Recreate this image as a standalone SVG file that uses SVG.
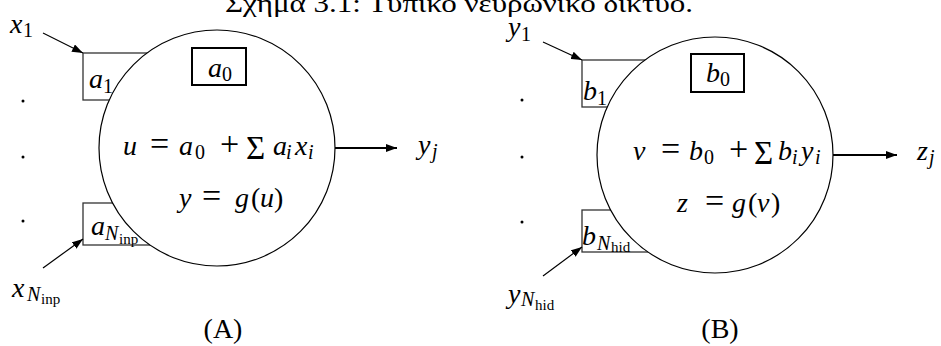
<svg xmlns="http://www.w3.org/2000/svg" width="941" height="346" viewBox="0 0 941 346">
<defs>
<style>
.t{font-family:"Liberation Serif","Times New Roman",serif;font-size:28px;fill:#000}
.i{font-style:italic}
.s{font-size:20px;font-style:normal}
.si{font-size:20px;font-style:italic}
.ss{font-size:15px;font-style:normal}
.op{font-size:34px;font-style:normal}
.p{font-size:28px;font-style:normal}
.sum{font-size:33px;font-style:normal}
.w{fill:none;stroke:#333;stroke-width:1.3}
.c{fill:#fff;stroke:#000;stroke-width:1.2}
.b0{fill:none;stroke:#000;stroke-width:2}
.ln{stroke:#000;stroke-width:1.2;fill:none}
.lo{stroke:#000;stroke-width:2.2;fill:none}
.dot{fill:#000}
.title{font-family:"Liberation Serif","DejaVu Serif",serif;font-size:25px}
</style>
<marker id="ah" markerUnits="userSpaceOnUse" markerWidth="11" markerHeight="8" refX="11" refY="4" orient="auto"><path d="M0,0 L11,4 L0,8 z" fill="#000"/></marker>
</defs>
<rect width="941" height="346" fill="#fff"/>
<text class="title" x="225" y="12" textLength="468" lengthAdjust="spacingAndGlyphs">Σχημα 3.1: Τυπικο νευρωνικο δικτυο.</text>

<g id="neuronA">
<rect class="w" x="83" y="53" width="90" height="47"/>
<rect class="w" x="83" y="203" width="90" height="42"/>
<circle class="c" cx="217" cy="148" r="118"/>
<rect class="b0" x="192" y="48" width="54" height="37"/>
<text class="t i" y="77"><tspan x="208">a</tspan><tspan class="s" x="222" y="81">0</tspan></text>
<text class="t i" y="88"><tspan x="89">a</tspan><tspan class="s" x="103" y="93">1</tspan></text>
<text class="t i" y="235"><tspan x="91">a</tspan><tspan class="si" x="105" y="240">N</tspan><tspan class="ss" x="119" y="244">inp</tspan></text>
<text class="t i" y="155"><tspan x="123">u</tspan><tspan class="op" x="150">=</tspan><tspan x="179">a</tspan><tspan class="s" x="195" y="159">0</tspan><tspan class="op" x="220" y="155">+</tspan><tspan class="sum" x="246" y="159">Σ</tspan><tspan x="273" y="155">a</tspan><tspan class="si" x="286" y="159">i</tspan><tspan x="295" y="155">x</tspan><tspan class="si" x="308" y="159">i</tspan></text>
<text class="t i" y="207"><tspan x="179">y</tspan><tspan class="op" x="202">=</tspan><tspan x="235">g</tspan><tspan class="p" x="251">(</tspan><tspan x="260">u</tspan><tspan class="p" x="274">)</tspan></text>
</g>
<g id="inputsA">
<text class="t i" y="33"><tspan x="10">x</tspan><tspan class="s" x="23" y="37">1</tspan></text>
<circle class="dot" cx="23" cy="101" r="1.5"/>
<circle class="dot" cx="23" cy="157" r="1.5"/>
<circle class="dot" cx="23" cy="221" r="1.5"/>
<text class="t i" y="297"><tspan x="12">x</tspan><tspan class="si" x="27" y="301">N</tspan><tspan class="ss" x="41" y="304">inp</tspan></text>
</g>
<g id="outputA">
<text class="t i" y="154"><tspan x="418">y</tspan><tspan class="si" x="432" y="158">j</tspan></text>
</g>
<text id="labelA" class="t" x="223" y="338" text-anchor="middle">(A)</text>

<g id="neuronB">
<rect class="w" x="582" y="60" width="90" height="47"/>
<rect class="w" x="582" y="210" width="90" height="42"/>
<circle class="c" cx="715" cy="155" r="118"/>
<rect class="b0" x="691" y="54" width="53" height="38"/>
<text class="t i" y="82"><tspan x="706">b</tspan><tspan class="s" x="720" y="86">0</tspan></text>
<text class="t i" y="100"><tspan x="583">b</tspan><tspan class="s" x="597" y="105">1</tspan></text>
<text class="t i" y="245"><tspan x="582">b</tspan><tspan class="si" x="597" y="250">N</tspan><tspan class="ss" x="611" y="252">hid</tspan></text>
<text class="t i" y="160"><tspan x="633">v</tspan><tspan class="op" x="661">=</tspan><tspan x="689">b</tspan><tspan class="s" x="704" y="164">0</tspan><tspan class="op" x="729" y="160">+</tspan><tspan class="sum" x="754" y="164">Σ</tspan><tspan x="778" y="160">b</tspan><tspan class="si" x="792" y="164">i</tspan><tspan x="801" y="160">y</tspan><tspan class="si" x="815" y="164">i</tspan></text>
<text class="t i" y="212"><tspan x="677">z</tspan><tspan class="op" x="705">=</tspan><tspan x="732">g</tspan><tspan class="p" x="748">(</tspan><tspan x="757">v</tspan><tspan class="p" x="771">)</tspan></text>
</g>
<g id="inputsB">
<text class="t i" y="36"><tspan x="508">y</tspan><tspan class="s" x="521" y="41">1</tspan></text>
<circle class="dot" cx="522" cy="100" r="1.5"/>
<circle class="dot" cx="522" cy="157" r="1.5"/>
<circle class="dot" cx="522" cy="222" r="1.5"/>
<text class="t i" y="303"><tspan x="508">y</tspan><tspan class="si" x="521" y="306">N</tspan><tspan class="ss" x="535" y="310">hid</tspan></text>
</g>
<g id="outputB">
<text class="t i" y="160"><tspan x="917">z</tspan><tspan class="si" x="929" y="164">j</tspan></text>
</g>
<text id="labelB" class="t" x="720" y="338" text-anchor="middle">(B)</text>

<g id="connectors">
<line class="ln" x1="43" y1="33" x2="83" y2="53" marker-end="url(#ah)"/>
<line class="ln" x1="43" y1="268" x2="83" y2="239" marker-end="url(#ah)"/>
<line class="lo" x1="335" y1="148" x2="397" y2="148" marker-end="url(#ah)"/>
<line class="ln" x1="543" y1="42" x2="582" y2="60" marker-end="url(#ah)"/>
<line class="ln" x1="543" y1="276" x2="582" y2="247" marker-end="url(#ah)"/>
<line class="lo" x1="833" y1="155" x2="897" y2="155" marker-end="url(#ah)"/>
</g>
</svg>
